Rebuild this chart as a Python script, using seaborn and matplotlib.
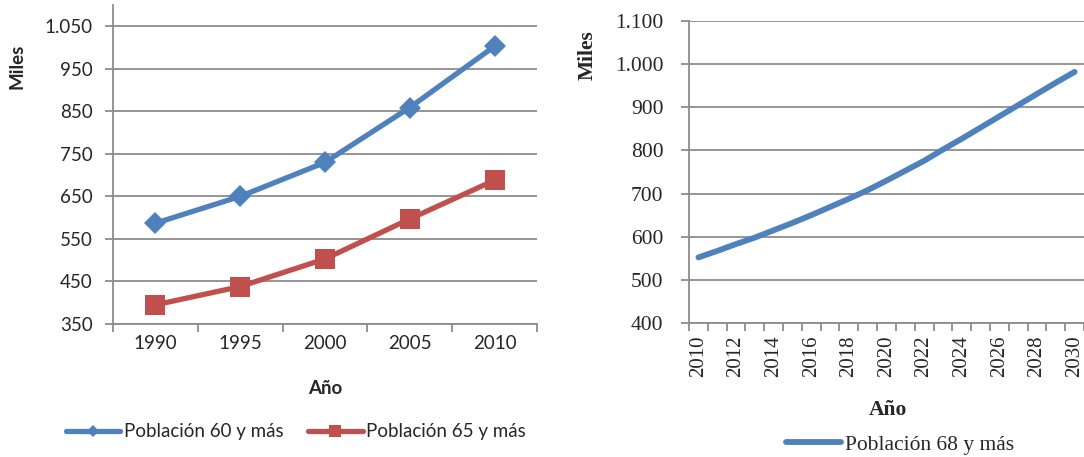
import matplotlib
matplotlib.use("Agg")
import matplotlib.pyplot as plt
from matplotlib.ticker import FixedLocator, FuncFormatter, NullFormatter
import seaborn as sns
import numpy as np

# Population aged 60+ and 65+, 1990-2010 (thousands)
years_hist = ["1990", "1995", "2000", "2005", "2010"]
pop_60_plus = [587, 650, 730, 859, 1003]
pop_65_plus = [395, 438, 503, 597, 688]

# Projection of population aged 68+, 2010-2030 (thousands)
years_proj = [str(y) for y in range(2010, 2031)]
pop_68_plus = [552, 567, 583, 598, 615, 632, 650, 669, 688, 708, 730,
               753, 776, 802, 827, 853, 879, 905, 931, 957, 982]

BLUE = "#4F81BD"
RED = "#C0504D"
GRID = "#8C8C8C"
SANS = "Lato"
SERIF = "Liberation Serif"

sns.set_theme(style="white")
plt.rcParams["font.family"] = [SANS, "DejaVu Sans"]

W, H = 1084, 457
fig = plt.figure(figsize=(W / 100, H / 100), dpi=100)


def px_axes(left, top, right, bottom):
    return fig.add_axes([left / W, 1 - bottom / H, (right - left) / W, (bottom - top) / H])


def thousands(v, _pos):
    return f"{v:,.0f}".replace(",", ".")


def style_axes(ax, n, ylo, yhi, ygrid, labels, family, fsize, rot=0,
               xpad=6, ypad=4, xsize=None):
    ax.set_xlim(-0.5, n - 0.5)
    ax.set_ylim(ylo, yhi)
    for s in ("top", "right"):
        ax.spines[s].set_visible(False)
    for s in ("left", "bottom"):
        ax.spines[s].set_color(GRID)
        ax.spines[s].set_linewidth(1.3)
    ax.yaxis.set_major_locator(FixedLocator(ygrid))
    ax.yaxis.set_major_formatter(FuncFormatter(thousands))
    ax.grid(axis="y", color=GRID, linewidth=1.3)
    ax.grid(axis="x", visible=False)
    ax.set_axisbelow(True)
    # boundaries between categories carry the tick marks, centres carry labels
    ax.xaxis.set_major_locator(FixedLocator(np.arange(n + 1) - 0.5))
    ax.xaxis.set_major_formatter(NullFormatter())
    ax.xaxis.set_minor_locator(FixedLocator(np.arange(n)))
    ax.set_xticks(np.arange(n), labels, minor=True)
    ax.tick_params(axis="x", which="major", bottom=True, length=6, width=1.3,
                   color=GRID, direction="out")
    ax.tick_params(axis="x", which="minor", bottom=True, length=0, pad=xpad,
                   labelsize=xsize or fsize, labelrotation=rot)
    ax.tick_params(axis="y", left=True, length=6, width=1.3, color=GRID,
                   labelsize=fsize, pad=ypad)
    for t in ax.get_xticklabels(minor=True) + ax.get_yticklabels():
        t.set_family(family)
    ax.set_xlabel("")
    ax.set_ylabel("")


# ---- left panel: historical series ----
ax1 = px_axes(113, 5, 537, 324)
x1 = np.arange(len(years_hist))
sns.lineplot(x=x1, y=pop_60_plus, ax=ax1, color=BLUE, linewidth=3.8,
             marker="D", markersize=11, markeredgewidth=0,
             label="Población 60 y más")
sns.lineplot(x=x1, y=pop_65_plus, ax=ax1, color=RED, linewidth=3.8,
             marker="s", markersize=14, markeredgewidth=0,
             label="Población 65 y más")
style_axes(ax1, len(years_hist), 350, 1100, np.arange(350, 1051, 100),
           years_hist, SANS, 13.5, xpad=8, ypad=8.5)
h1, l1 = ax1.get_legend_handles_labels()
ax1.legend_.remove()
fig.legend(h1, l1, loc="center", bbox_to_anchor=(296 / W, 1 - 432 / H),
           ncol=2, frameon=False, markerscale=0.6,
           handlelength=2.9, handletextpad=0.2, columnspacing=1.3,
           prop={"family": SANS, "size": 13.5})
fig.text(17 / W, 1 - 66 / H, "Miles", rotation=90, ha="center", va="center",
         fontsize=13.5, fontweight="bold", family=SANS)
fig.text(325 / W, 1 - 389 / H, "Año", ha="center", va="center",
         fontsize=13.5, fontweight="bold", family=SANS)

# ---- right panel: projection ----
ax2 = px_axes(689, 21, 1084, 323)
x2 = np.arange(len(years_proj))
sns.lineplot(x=x2, y=pop_68_plus, ax=ax2, color=BLUE, linewidth=4.2,
             solid_capstyle="round", label="Población 68 y más")
style_axes(ax2, len(years_proj), 400, 1100, np.arange(400, 1101, 100),
           [y if i % 2 == 0 else "" for i, y in enumerate(years_proj)],
           SERIF, 15.5, rot=90, xpad=9, ypad=12.5, xsize=15)
for t in ax2.get_xticklabels(minor=True):
    t.set_va("top")
h2, l2 = ax2.get_legend_handles_labels()
ax2.legend_.remove()
fig.legend(h2, l2, loc="center", bbox_to_anchor=(900 / W, 1 - 445 / H),
           frameon=False, handlelength=2.55, handletextpad=0.2,
           prop={"family": SERIF, "size": 15.5})
fig.text(588 / W, 1 - 55 / H, "Miles", rotation=90, ha="center", va="center",
         fontsize=15.5, fontweight="bold", family=SERIF)
fig.text(888 / W, 1 - 410 / H, "Año", ha="center", va="center",
         fontsize=15.5, fontweight="bold", family=SERIF)

fig.savefig("out.png", dpi=100, facecolor="white")
